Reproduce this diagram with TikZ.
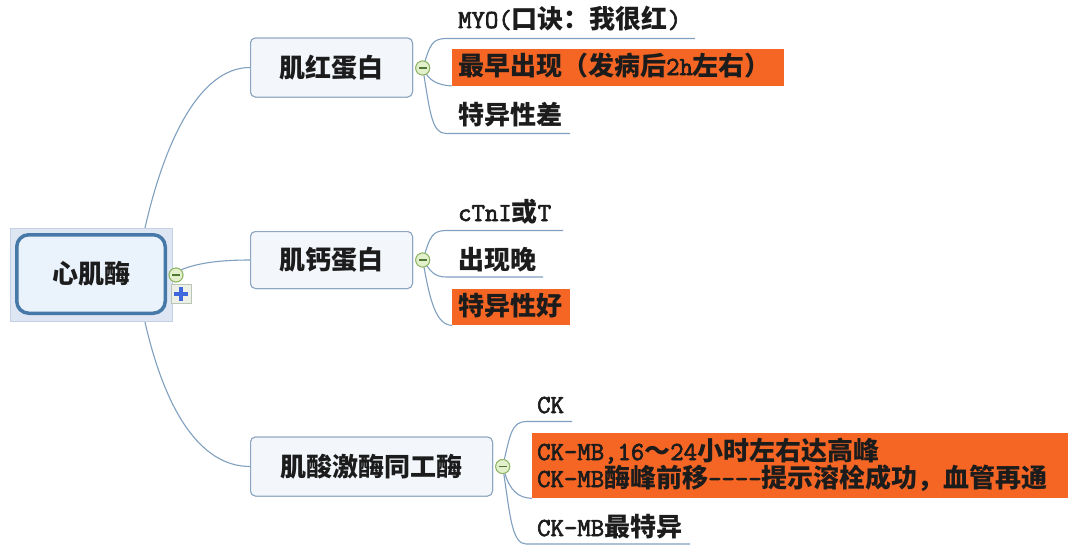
\documentclass[tikz,border=0pt]{standalone}
\usepackage{fontspec}
\setmainfont{Noto Sans CJK SC}
\newfontfamily\monof[FakeBold=2.6]{Latin Modern Mono}
\newcommand\lat[1]{{\monof\mdseries #1}}
\definecolor{lineC}{RGB}{128,160,192}
\definecolor{nodeB}{RGB}{140,165,192}
\definecolor{nodeF}{RGB}{243,247,252}
\definecolor{rootO}{RGB}{196,208,228}
\definecolor{rootOF}{RGB}{222,230,243}
\definecolor{rootB}{RGB}{70,120,168}
\definecolor{rootF}{RGB}{234,242,251}
\definecolor{orng}{RGB}{245,102,36}
\definecolor{txt}{RGB}{28,28,28}
\definecolor{foldB}{RGB}{140,180,100}
\definecolor{foldF}{RGB}{226,240,204}
\definecolor{foldD}{RGB}{80,120,50}
\definecolor{plusB}{RGB}{185,198,180}
\definecolor{plusF}{RGB}{236,240,230}
\definecolor{plusC}{RGB}{62,104,220}
\tikzset{
  conn/.style={draw=lineC, line width=1.1pt},
  topic/.style={draw=nodeB, fill=nodeF, rounded corners=5pt, line width=1pt, inner sep=0pt, text=txt, font=\fontsize{26}{30}\selectfont\bfseries},
  lbl/.style={anchor=base west, inner sep=0pt, text=txt, font=\fontsize{26}{27}\selectfont\bfseries},
  hl/.style={fill=orng, draw=none, anchor=north west, inner sep=0pt},
  fold/.style={circle, draw=foldB, fill=foldF, minimum size=14pt, inner sep=0pt, line width=0.9pt,
    path picture={\draw[foldD, line width=1.1pt] ([xshift=-4pt]path picture bounding box.center) -- ([xshift=4pt]path picture bounding box.center);}},
}
\begin{document}
\begin{tikzpicture}[x=1pt, y=-1pt]
\useasboundingbox (0,0) rectangle (1073,546);
\fill[white] (0,0) rectangle (1073,546);

% root
\node[draw=rootO, fill=rootOF, line width=1.2pt, minimum width=162, minimum height=93, inner sep=0pt] (rootout) at (91.5,275) {};
\node[draw=rootB, fill=rootF, line width=3.5pt, rounded corners=12pt, minimum width=148.5, minimum height=78.5, inner sep=0pt, text=txt, font=\fontsize{26}{30}\selectfont\bfseries] (root) at (91,274) {心肌酶};

% main topics
\node[topic, minimum width=162, minimum height=59] (n1) at (331.5,67.5) {肌红蛋白};
\node[topic, minimum width=162, minimum height=57] (n2) at (331.5,260) {肌钙蛋白};
\node[topic, minimum width=242, minimum height=59] (n3) at (371.5,466.5) {肌酸激酶同工酶};

% fold markers
\node[fold] (f0) at (176,275) {};
\node[fold] (f1) at (422.7,68) {};
\node[fold] (f2) at (422.7,260) {};
\node[fold] (f3) at (502.7,466.5) {};
\node[draw=plusB, fill=plusF, line width=0.8pt, minimum width=20, minimum height=19, inner sep=0pt] (plus) at (181,294) {};
\draw[plusC, line width=3.6pt] ([xshift=-7pt]plus.center) -- ([xshift=7pt]plus.center);
\draw[plusC, line width=3.6pt] ([yshift=-7pt]plus.center) -- ([yshift=7pt]plus.center);

% root connectors
\draw[conn] ([xshift=53.5pt]rootout.north) .. controls (165,140) and (200,67.5) .. (n1.west);
\draw[conn] (f0.north east) .. controls (200,262) and (225,260) .. (n2.west);
\draw[conn] ([xshift=53.5pt]rootout.south) .. controls (165,410) and (200,466.5) .. (n3.west);

% redraw over connectors
\node[fold] at (176,275) {};
\node[topic, minimum width=162, minimum height=59] at (331.5,67.5) {肌红蛋白};
\node[topic, minimum width=162, minimum height=57] at (331.5,260) {肌钙蛋白};
\node[topic, minimum width=242, minimum height=59] at (371.5,466.5) {肌酸激酶同工酶};

% ---------- branch 1
\coordinate (a1) at (446,38.5); \coordinate (a1e) at (695,38.5);
\coordinate (a3) at (446,133.5); \coordinate (a3e) at (570,133.5);
\node[hl, minimum width=332, minimum height=36.5] (h1) at (452,49) {};
\draw[conn] (f1) .. controls (430,46) and (432,38.5) .. (a1) -- (a1e);
\draw[conn] (f1) .. controls (430,80) and (438,85.5) .. (h1.south west);
\draw[conn] (f1) .. controls (430,112) and (432,133.5) .. (a3) -- (a3e);
\node[fold] at (422.7,68) {};
\node[lbl] (t11) at (458,28) {\lat{MYO(}口诀：我很红\lat{)}};
\node[lbl] (t12) at (458,75) {最早出现（发病后\lat{2h}左右）};
\node[lbl] (t13) at (458,124) {特异性差};

% ---------- branch 2
\coordinate (b1) at (446,230.5); \coordinate (b1e) at (563,230.5);
\coordinate (b2) at (446,277); \coordinate (b2e) at (543,277);
\node[hl, minimum width=118, minimum height=36] (h2) at (452,289) {};
\draw[conn] (f2) .. controls (430,238) and (432,230.5) .. (b1) -- (b1e);
\draw[conn] (f2) .. controls (430,270) and (434,277) .. (b2) -- (b2e);
\draw[conn] (f2) .. controls (430,300) and (436,325) .. (h2.south west);
\node[fold] at (422.7,260) {};
\node[lbl] (t21) at (458,221) {\lat{cTnI}或\lat{T}};
\node[lbl] (t22) at (458,269) {出现晚};
\node[lbl] (t23) at (458,315) {特异性好};

% ---------- branch 3
\coordinate (c1) at (526,421.5); \coordinate (c1e) at (572,421.5);
\coordinate (c3) at (526,544); \coordinate (c3e) at (690,544);
\node[hl, minimum width=536, minimum height=65] (h3) at (532,433) {};
\draw[conn] (f3) .. controls (510,435) and (512,421.5) .. (c1) -- (c1e);
\draw[conn] (f3) .. controls (510,490) and (518,498) .. (h3.south west);
\draw[conn] (f3) .. controls (510,515) and (512,544) .. (c3) -- (c3e);
\node[fold] at (502.7,466.5) {};
\node[lbl] (t31) at (537,413) {\lat{CK}};
\node[lbl, align=left] (t32) at (537,487) {\lat{CK-MB,16}～\lat{24}小时左右达高峰\\\lat{CK-MB}酶峰前移\lat{----}提示溶栓成功，血管再通};
\node[lbl] (t34) at (537,536) {\lat{CK-MB}最特异};
\end{tikzpicture}
\end{document}
